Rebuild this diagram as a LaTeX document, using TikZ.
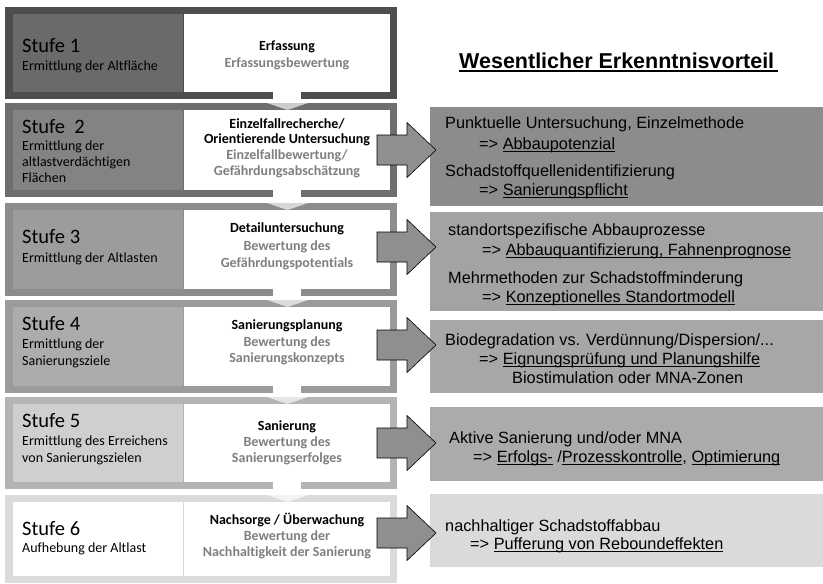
\documentclass[tikz,border=0pt]{standalone}
\usepackage{fontspec}
\setmainfont{Liberation Sans}
\newfontfamily\carl[Ligatures={NoCommon}]{Carlito}
\newfontfamily\ari{Liberation Sans}
\newcommand\myul[1]{\setbox0\hbox{#1}\rlap{\rule[-2.4pt]{\wd0}{0.9pt}}\box0\relax}
\newcommand\myulh[1]{\setbox0\hbox{#1}\rlap{\rule[-3.8pt]{\wd0}{1.8pt}}\box0\relax}
\definecolor{fA}{HTML}{4E4E4E}\definecolor{iA}{HTML}{6A6A6A}
\definecolor{fB}{HTML}{6E6E6E}\definecolor{iB}{HTML}{838383}
\definecolor{fC}{HTML}{8C8C8C}\definecolor{iC}{HTML}{9C9C9C}
\definecolor{fD}{HTML}{9B9B9B}\definecolor{iD}{HTML}{ACACAC}
\definecolor{fE}{HTML}{B4B4B4}\definecolor{iE}{HTML}{CFCFCF}
\definecolor{fF}{HTML}{DBDBDB}\definecolor{iF}{HTML}{FFFFFF}
\definecolor{rA}{HTML}{8C8C8C}\definecolor{rB}{HTML}{A3A3A3}
\definecolor{rC}{HTML}{A7A7A7}\definecolor{rD}{HTML}{ABABAB}
\definecolor{rE}{HTML}{DADADA}
\definecolor{wgray}{HTML}{7F7F7F}
\definecolor{arrowgray}{HTML}{8F8F8F}
\begin{document}
\begin{tikzpicture}[x=1pt,y=-1pt,
  st/.style={anchor=base west, inner sep=0pt, font=\carl\fontsize{20.5}{24}\selectfont},
  lt/.style={anchor=base west, inner sep=0pt, font=\carl\fontsize{14}{16}\selectfont},
  wb/.style={anchor=base, inner sep=0pt, font=\carl\bfseries\fontsize{14}{16}\selectfont},
  wg/.style={wb, text=wgray},
  rt/.style={anchor=base west, inner sep=0pt, font=\ari\fontsize{16.3}{19}\selectfont},
  hd/.style={anchor=base west, inner sep=0pt, font=\ari\bfseries\fontsize{21.5}{26}\selectfont},
  bigarrow/.style={draw=black, line width=0.6pt, fill=arrowgray, line join=miter}]
\useasboundingbox (0,0) rectangle (823,584);
\fill[white] (0,0) rectangle (823,584);
% stage frames
\foreach \t/\b/\fc/\ic in {7/99/fA/iA, 103/197/fB/iB, 203/296/fC/iC, 300/393/fD/iD, 397/489/fE/iE, 495/583/fF/iF}{
  \fill[\fc] (5,\t) rectangle (397,\b);
  \fill[\ic] (13,\t+7) rectangle (183,\b-7);
  \fill[white] (184,\t+7) rectangle (390,\b-7);
}
% tabs between stages
\foreach \b/\n/\nc in {99/103/fB, 197/203/fC, 296/300/fD, 393/397/fE, 489/495/fF}{
  \fill[white] (273,\b-8) rectangle (301,\n);
  \fill[white!65!\nc] (267,\n) -- (308,\n) -- (287.5,\n+7) -- cycle;
}
% right boxes
\fill[rA] (430,107) rectangle (823,206);
\fill[rB] (430,212) rectangle (823,311);
\fill[rC] (430,320) rectangle (823,393);
\fill[rD] (430,407) rectangle (823,481);
\fill[rE] (430,494) rectangle (823,567);
% arrows
\foreach \c in {150,247,345,443,533}{
  \draw[bigarrow] (377,\c-15) -- (407,\c-15) -- (407,\c-27.5) -- (436,\c) -- (407,\c+27.5) -- (407,\c+15) -- (377,\c+15) -- cycle;
}
% left texts
\node[st] (s1) at (22,52) {Stufe 1};
\node[lt] (s1a) at (22,70) {Ermittlung der Altfläche};
\node[st] (s2) at (22,133) {Stufe\ \ 2};
\node[lt] (s2a) at (22,150) {Ermittlung der};
\node[lt] (s2b) at (22,166) {altlastverdächtigen};
\node[lt] (s2c) at (22,182) {Flächen};
\node[st] (s3) at (22,243) {Stufe 3};
\node[lt] (s3a) at (22,262) {Ermittlung der Altlasten};
\node[st] (s4) at (22,330) {Stufe 4};
\node[lt] (s4a) at (22,348) {Ermittlung der};
\node[lt] (s4b) at (22,365) {Sanierungsziele};
\node[st] (s5) at (22,427) {Stufe 5};
\node[lt] (s5a) at (22,445) {Ermittlung des Erreichens};
\node[lt] (s5b) at (22,462) {von Sanierungszielen};
\node[st] (s6) at (22,535) {Stufe 6};
\node[lt] (s6a) at (22,552) {Aufhebung der Altlast};
% white box texts
\node[wb] (w1a) at (287,50) {Erfassung};
\node[wg] (w1b) at (287,67) {Erfassungsbewertung};
\node[wb] (w2a) at (287,128) {Einzelfallrecherche/};
\node[wb] (w2b) at (287,143) {Orientierende Untersuchung};
\node[wg] (w2c) at (287,159) {Einzelfallbewertung/};
\node[wg] (w2d) at (287,175) {Gefährdungsabschätzung};
\node[wb] (w3a) at (287,232) {Detailuntersuchung};
\node[wg] (w3b) at (287,250) {Bewertung des};
\node[wg] (w3c) at (287,267) {Gefährdungspotentials};
\node[wb] (w4a) at (287,329) {Sanierungsplanung};
\node[wg] (w4b) at (287,346) {Bewertung des};
\node[wg] (w4c) at (287,362) {Sanierungskonzepts};
\node[wb] (w5a) at (287,430) {Sanierung};
\node[wg] (w5b) at (287,446) {Bewertung des};
\node[wg] (w5c) at (287,462) {Sanierungserfolges};
\node[wb] (w6a) at (287,524) {Nachsorge / Überwachung};
\node[wg] (w6b) at (287,540) {Bewertung der};
\node[wg] (w6c) at (287,556) {Nachhaltigkeit der Sanierung};
% header
\node[hd] (hdr) at (459,68) {\myulh{Wesentlicher Erkenntnisvorteil\,}};
% right texts
\node[rt] (r1a) at (445,128) {Punktuelle Untersuchung, Einzelmethode};
\node[rt] (r1b) at (479,149) {=> \myul{Abbaupotenzial}};
\node[rt] (r1c) at (445,176) {Schadstoffquellenidentifizierung};
\node[rt] (r1d) at (479,195) {=> \myul{Sanierungspflicht}};
\node[rt] (r2a) at (448,235) {standortspezifische Abbauprozesse};
\node[rt] (r2b) at (482,255) {=> \myul{Abbauquantifizierung, Fahnenprognose}};
\node[rt] (r2c) at (448,283) {Mehrmethoden zur Schadstoffminderung};
\node[rt] (r2d) at (482,302) {=> \myul{Konzeptionelles Standortmodell}};
\node[rt] (r3a) at (445,345) {Biodegradation vs. Verdünnung/Dispersion/...};
\node[rt] (r3b) at (479,364) {=> \myul{Eignungsprüfung und Planungshilfe}};
\node[rt] (r3c) at (512,383) {Biostimulation oder MNA-Zonen};
\node[rt] (r4a) at (449,443) {Aktive Sanierung und/oder MNA};
\node[rt] (r4b) at (473,462) {=> \myul{Erfolgs-} /\myul{Prozesskontrolle}, \myul{Optimierung}};
\node[rt] (r5a) at (445,531) {nachhaltiger Schadstoffabbau};
\node[rt] (r5b) at (470,549) {=> \myul{Pufferung von Reboundeffekten}};
\end{tikzpicture}
\end{document}
